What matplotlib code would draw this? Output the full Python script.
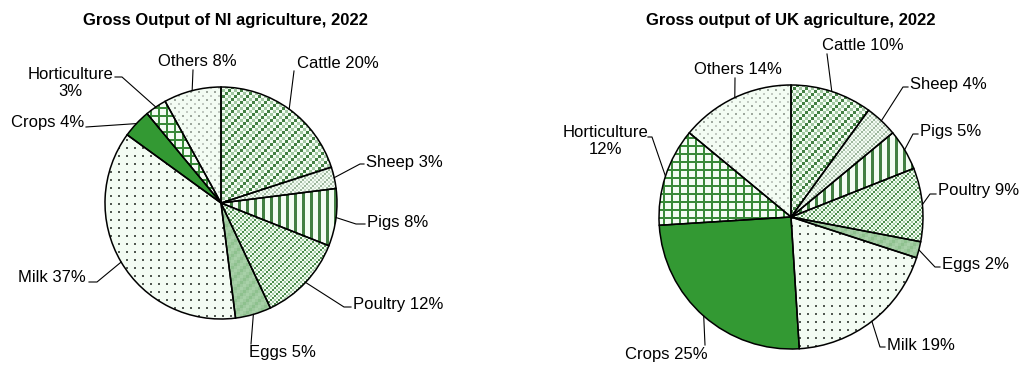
import numpy as np
import matplotlib
matplotlib.use("Agg")
import matplotlib.pyplot as plt

plt.rcParams['font.family'] = ['Liberation Sans', 'DejaVu Sans']

# ---- data -------------------------------------------------------------
categories = ["Cattle", "Sheep", "Pigs", "Poultry", "Eggs", "Milk",
              "Crops", "Horticulture", "Others"]
ni_share = [20, 3, 8, 12, 5, 37, 4, 3, 8]
uk_share = [10, 4, 5, 9, 2, 19, 25, 12, 14]
ni_title = "Gross Output of NI agriculture, 2022"
uk_title = "Gross output of UK agriculture, 2022"

# ---- fill textures (small pixel tiles repeated over each slice) -------
WH = (0.955, 0.99, 0.955)
DK = (0.26, 0.50, 0.26)
LT = (0.64, 0.79, 0.64)
GRN = (0.20, 0.60, 0.20)


def checker(cell, dark, light, bg=WH):
    t = np.zeros((4 * cell, 4 * cell, 3))
    for i in range(4):
        for j in range(4):
            if (i + j) % 2:
                c = bg
            else:
                c = dark if (i + j) % 4 == 0 else light
            t[i * cell:(i + 1) * cell, j * cell:(j + 1) * cell] = c
    return t


def dots(period, size, colour, second=None):
    t = np.zeros((period, period, 3))
    t[:] = WH
    t[:size, :size] = colour
    if second is not None:
        h = period // 2
        t[h:h + size, h:h + size] = second
    return t


def stripes(period, width, colour):
    t = np.zeros((period, period, 3))
    t[:] = WH
    t[:, :width] = colour
    return t


def grid(period, width, colour):
    t = np.zeros((period, period, 3))
    t[:] = WH
    t[:width, :] = colour
    t[:, :width] = colour
    return t


def solid(colour):
    t = np.zeros((4, 4, 3))
    t[:] = colour
    return t


textures = {
    "Cattle": checker(3, DK, LT),
    "Sheep": checker(2, (0.62, 0.72, 0.62), (0.80, 0.86, 0.80)),
    "Pigs": stripes(8, 3, DK),
    "Poultry": checker(2, (0.30, 0.55, 0.30), (0.66, 0.81, 0.66)),
    "Eggs": checker(3, (0.56, 0.76, 0.56), (0.66, 0.82, 0.66), bg=(0.62, 0.79, 0.62)),
    "Milk": dots(8, 2, (0.32, 0.35, 0.32)),
    "Crops": solid(GRN),
    "Horticulture": grid(8, 2, (0.22, 0.54, 0.22)),
    "Others": dots(8, 2, (0.62, 0.66, 0.62), (0.76, 0.79, 0.76)),
}

W_PX, H_PX = 1022, 365
fig = plt.figure(figsize=(W_PX / 100, H_PX / 100), dpi=100)
fig.patch.set_facecolor('white')

LABEL_SIZE = 12
TITLE_SIZE = 12
MARGIN = 1.03


def label_text(cat, v):
    if cat == "Horticulture":
        return f"{cat}\n{v}%"
    return f"{cat} {v}%"


def draw_pie(values, title, cx, cy, r, title_xy, layout):
    half = r * MARGIN
    ax = fig.add_axes([(cx - half) / W_PX, (H_PX - (cy + half)) / H_PX,
                       2 * half / W_PX, 2 * half / H_PX])
    wedges, _ = ax.pie(values, startangle=90, counterclock=False,
                       radius=1, frame=False,
                       wedgeprops=dict(facecolor='none', edgecolor='black',
                                       linewidth=1.1, zorder=3))
    n = int(round(2 * half))
    for cat, w in zip(categories, wedges):
        tile = textures[cat]
        reps = (n // tile.shape[0] + 1, n // tile.shape[1] + 1, 1)
        img = np.tile(tile, reps)[:n, :n]
        im = ax.imshow(img, extent=(-MARGIN, MARGIN, -MARGIN, MARGIN),
                       interpolation='nearest', zorder=1)
        im.set_clip_path(w)
    ax.set_xlim(-MARGIN, MARGIN)
    ax.set_ylim(-MARGIN, MARGIN)
    ax.set_axis_off()

    def to_data(px, py):
        return (px - cx) / r, (cy - py) / r

    for cat, v, w, (tx, ty, ha, elbows) in zip(categories, values, wedges, layout):
        mid = np.deg2rad((w.theta1 + w.theta2) / 2)
        pts = [(np.cos(mid), np.sin(mid))] + [to_data(*p) for p in elbows]
        xs, ys = zip(*pts)
        ax.plot(xs, ys, color='black', lw=0.8, clip_on=False, zorder=4)
        ax.text(*to_data(tx, ty), label_text(cat, v), ha=ha, va='center',
                multialignment='center', fontsize=LABEL_SIZE, clip_on=False,
                linespacing=1.1)

    fig.text(title_xy[0] / W_PX, 1 - title_xy[1] / H_PX, title,
             ha='center', va='center', fontsize=TITLE_SIZE, fontweight='bold')


# label layout: text anchor (px), alignment, leader elbow points (px)
ni_layout = [
    (297, 63, 'left', [(294, 71)]),
    (366, 162, 'left', [(360, 164), (364, 164)]),
    (367, 222, 'left', [(356, 224), (365, 224)]),
    (353, 305, 'left', [(344, 307), (351, 307)]),
    (249, 352, 'left', [(251, 344)]),
    (86, 278, 'right', [(97, 282), (89, 282)]),
    (84, 122, 'right', [(86, 127)]),
    (113, 83, 'right', [(122, 77), (115, 77)]),
    (197, 62, 'center', [(193, 70)]),
]
uk_layout = [
    (822, 46, 'left', [(827, 54)]),
    (910, 84, 'left', [(903, 87), (908, 87)]),
    (920, 131, 'left', [(913, 134), (918, 134)]),
    (938, 190, 'left', [(930, 194), (936, 194)]),
    (942, 265, 'left', [(935, 267), (940, 267)]),
    (887, 345, 'left', [(880, 347), (885, 347)]),
    (708, 354, 'right', [(705, 345)]),
    (648, 141, 'right', [(652, 137), (648, 137)]),
    (738, 69, 'center', [(735, 78)]),
]

draw_pie(ni_share, ni_title, 221, 203, 116, (225, 20), ni_layout)
draw_pie(uk_share, uk_title, 791, 217, 132, (791, 20), uk_layout)

fig.savefig("out.png", dpi=100)
